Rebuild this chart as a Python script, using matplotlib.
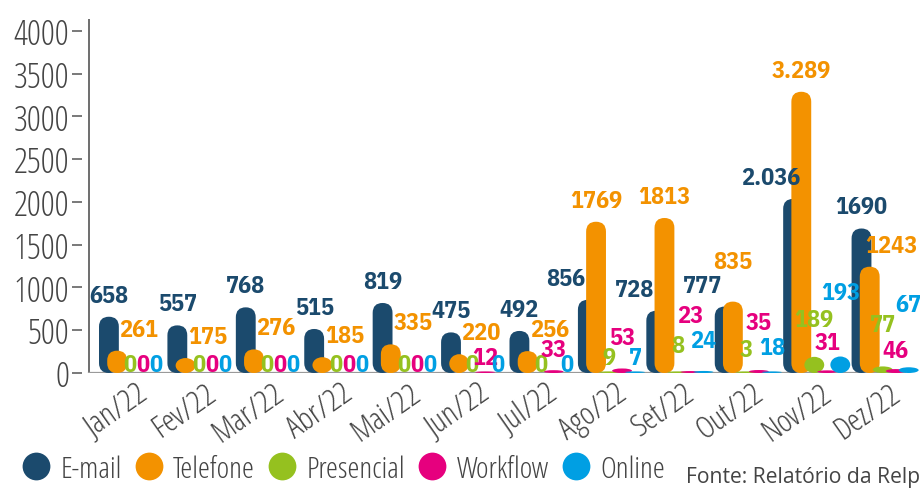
import matplotlib
matplotlib.use("Agg")
import matplotlib.pyplot as plt
import numpy as np
from matplotlib import font_manager as fm
from matplotlib.patches import FancyBboxPatch, Ellipse
from matplotlib.lines import Line2D

# dados
meses = ['Jan/22', 'Fev/22', 'Mar/22', 'Abr/22', 'Mai/22', 'Jun/22',
         'Jul/22', 'Ago/22', 'Set/22', 'Out/22', 'Nov/22', 'Dez/22']
email = [658, 557, 768, 515, 819, 475, 492, 856, 728, 777, 2036, 1690]
telefone = [261, 175, 276, 185, 335, 220, 256, 1769, 1813, 835, 3289, 1243]
presencial = [0, 0, 0, 0, 0, 0, 0, 9, 8, 3, 189, 77]
workflow = [0, 0, 0, 0, 0, 12, 33, 53, 23, 35, 31, 46]
online = [0, 0, 0, 0, 0, 0, 0, 7, 24, 18, 193, 67]

series = ['E-mail', 'Telefone', 'Presencial', 'Workflow', 'Online']
cores = ['#1b4a6d', '#f39200', '#95c11f', '#e6007e', '#009fe3']

# altura (px) das etiquetas pequenas acima da base - só layout
lift_pres = [2, 2, 2, 2, 2, 2, 2, 9, 21, 17, 47, 42]
lift_work = [2, 2, 2, 2, 2, 9, 17, 29, 51, 44, 24, 16]
lift_onl = [2, 2, 2, 2, 2, 2, 2, 9, 26, 19, 74, 62]

CINZA = '#444444'


def peso(f):
    w = f.weight
    return w if isinstance(w, int) else fm.weight_dict.get(w, 400)


def fonte(opcoes, size):
    # procura o arquivo da fonte condensada instalada
    for nome, stretch, alvo in opcoes:
        cands = [f for f in fm.fontManager.ttflist
                 if f.name == nome and f.stretch == stretch and f.style == 'normal'
                 and abs(peso(f) - alvo) <= 100]
        if cands:
            f = min(cands, key=lambda f: abs(peso(f) - alvo))
            return fm.FontProperties(fname=f.fname, size=size)
    return fm.FontProperties(family='DejaVu Sans', size=size)


LIGHT = [('Open Sans', 'condensed', 300), ('IBM Plex Sans Condensed', 'condensed', 300),
         ('Barlow Condensed', 'condensed', 300)]
BOLD = [('Open Sans', 'condensed', 700), ('IBM Plex Sans Condensed', 'condensed', 700),
        ('Barlow Condensed', 'condensed', 700)]

fp_ytick = fonte(LIGHT, 25)
fp_xtick = fonte(LIGHT, 23)
fp_leg = fonte(LIGHT, 21.8)
fp_lbl = fonte(BOLD, 17.5)
fp_fonte = fonte([('Open Sans', 'normal', 400)], 15.2)

fig = plt.figure(figsize=(9.24, 4.89), dpi=100)
ax = fig.add_axes([82 / 924, 115 / 489, 838 / 924, 354 / 489])
ax.set_xlim(-0.2485, 12.0)
ax.set_ylim(0, 4140)
for s in ax.spines.values():
    s.set_visible(False)

xpx = ax.transData.transform((1, 0))[0] - ax.transData.transform((0, 0))[0]
ypx = ax.transData.transform((0, 1))[1] - ax.transData.transform((0, 0))[1]

largura = 0.29
deslocs = [0.0, 0.12, 0.31, 0.50, 0.69]


def capsula(x0, h, cor, z):
    if h <= 0:
        return
    if h * ypx >= largura * xpx:
        p = FancyBboxPatch((x0, 0), largura, h,
                           boxstyle=f"round,pad=0,rounding_size={largura / 2}",
                           mutation_aspect=xpx / ypx, fc=cor, ec='none', zorder=z)
    else:
        hh = max(h, 1.6 / ypx)
        p = Ellipse((x0 + largura / 2, hh / 2), largura, hh, fc=cor, ec='none', zorder=z)
    p.set_clip_on(False)
    ax.add_patch(p)


def fmt(v):
    return f"{v:,}".replace(',', '.') if v >= 2000 else str(v)


lbl_kw = dict(textcoords='offset points', ha='center', va='baseline',
              fontproperties=fp_lbl, annotation_clip=False)

x = np.arange(len(meses))
valores = [email, telefone, presencial, workflow, online]
lifts = [None, None, lift_pres, lift_work, lift_onl]

for k, (vals, cor) in enumerate(zip(valores, cores)):
    for i, v in enumerate(vals):
        x0 = x[i] + deslocs[k]
        xc = x0 + largura / 2
        capsula(x0, v, cor, 3 + k)
        if k == 0:
            dx = 0 if email[i] >= telefone[i] else -22
            ax.annotate(fmt(v), (xc, v), xytext=(dx * 0.72, 15 * 0.72),
                        color=cor, zorder=10, **lbl_kw)
        elif k == 1:
            dx = 22 if telefone[i] < email[i] else 0
            dy = 15
            # quando as duas barras têm quase a mesma altura, sobe a etiqueta
            if telefone[i] > email[i] and (telefone[i] - email[i]) * ypx < 25:
                dy = 34
            ax.annotate(fmt(v), (xc, v), xytext=(dx * 0.72, dy * 0.72),
                        color=cor, zorder=10, **lbl_kw)
        else:
            ax.annotate(fmt(v), (xc, 0), xytext=(0, lifts[k][i] * 0.72),
                        color=cor, zorder=10, **lbl_kw)

# eixos
ax.axvline(-0.146, color='#555555', lw=1.2, zorder=2)
ax.axhline(0, xmin=7 / 838, xmax=823 / 838, color='#9a9a9a', lw=1.6, zorder=2)

ax.set_yticks(np.arange(0, 4001, 500))
ax.tick_params(axis='y', length=7.2, width=1.1, color='#555555', pad=2, labelcolor=CINZA)
for t in ax.get_yticklabels():
    t.set_fontproperties(fp_ytick)

ax.set_xticks(x + 0.53)
ax.set_xticklabels(meses, rotation=35, ha='right', rotation_mode='anchor', color=CINZA)
for t in ax.get_xticklabels():
    t.set_fontproperties(fp_xtick)
ax.tick_params(axis='x', length=0, pad=3)

# legenda
handles = [Line2D([], [], marker='o', ls='none', ms=20, mfc=c, mec='none') for c in cores]
fig.legend(handles, series, loc='lower left', bbox_to_anchor=(0.003, -0.028),
           ncol=5, frameon=False, handletextpad=0.3, columnspacing=0.4,
           handlelength=1.0, prop=fp_leg, labelcolor=CINZA, borderaxespad=0.2)

fig.text(0.996, 0.012, 'Fonte: Relatório da Relp', ha='right', va='baseline',
         fontproperties=fp_fonte, color=CINZA)

fig.savefig('out.png', dpi=100)
